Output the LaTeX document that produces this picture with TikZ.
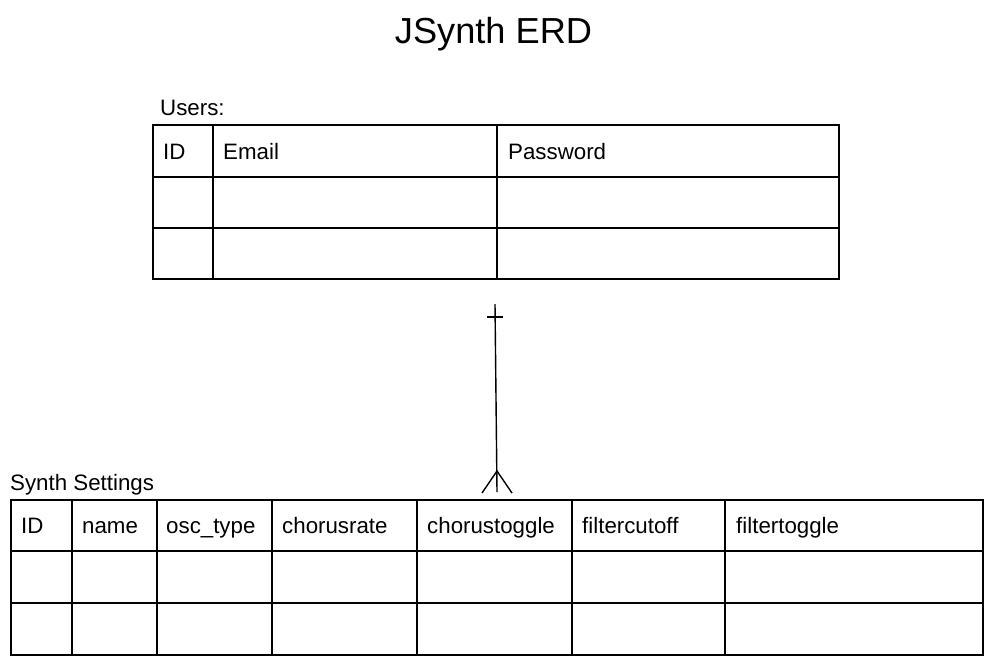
\documentclass[tikz,border=0pt]{standalone}
\usepackage{fontspec}
\setmainfont{Liberation Sans}
\begin{document}
\begin{tikzpicture}[x=1pt,y=-1pt,
  grid/.style={line width=1.6pt,black},
  rel/.style={line width=1.4pt,black},
  cell/.style={anchor=base west,inner sep=0pt,font=\fontsize{22.3}{26}\selectfont},
  caption/.style={anchor=base west,inner sep=0pt,font=\fontsize{22.3}{26}\selectfont}]
\useasboundingbox (0,0) rectangle (995,667);
\fill[white] (0,0) rectangle (995,667);

% title
\node[anchor=base,inner sep=0pt,font=\fontsize{36.2}{42}\selectfont] (title) at (493.5,43.5) {JSynth ERD};

% Users table
\node[caption] (userscap) at (160,115) {Users:};
\draw[grid] (153,125) rectangle (839,279);
\draw[grid] (153,177) -- (839,177);
\draw[grid] (153,228) -- (839,228);
\foreach \x in {213,497} \draw[grid] (\x,125) -- (\x,279);
\node[cell] (uid) at (163,159) {ID};
\node[cell] (uemail) at (223,159) {Email};
\node[cell] (upass) at (508,159) {Password};

% Synth Settings table
\node[caption] (synthcap) at (10,490) {Synth Settings};
\draw[grid] (11,500) rectangle (983,655);
\draw[grid] (11,551) -- (983,551);
\draw[grid] (11,603) -- (983,603);
\foreach \x in {72,157,272,417,572,725} \draw[grid] (\x,500) -- (\x,655);
\node[cell] (sid) at (21,533.5) {ID};
\node[cell] (sname) at (82,533.5) {name};
\node[cell] (sosc) at (166,533.5) {osc\_type};
\node[cell] (scr) at (282,533.5) {chorusrate};
\node[cell] (sct) at (427,533.5) {chorustoggle};
\node[cell] (sfc) at (582,533.5) {filtercutoff};
\node[cell] (sft) at (736,533.5) {filtertoggle};

% one-to-many relationship
\coordinate (one) at (495,304);
\coordinate (many) at (497,492);
\coordinate (footapex) at (497,471);
\draw[rel] (one) -- (many);
\draw[rel] (487,317) -- (503,317);
\draw[rel] (482,493) -- (footapex) -- (512,493);
\end{tikzpicture}
\end{document}
